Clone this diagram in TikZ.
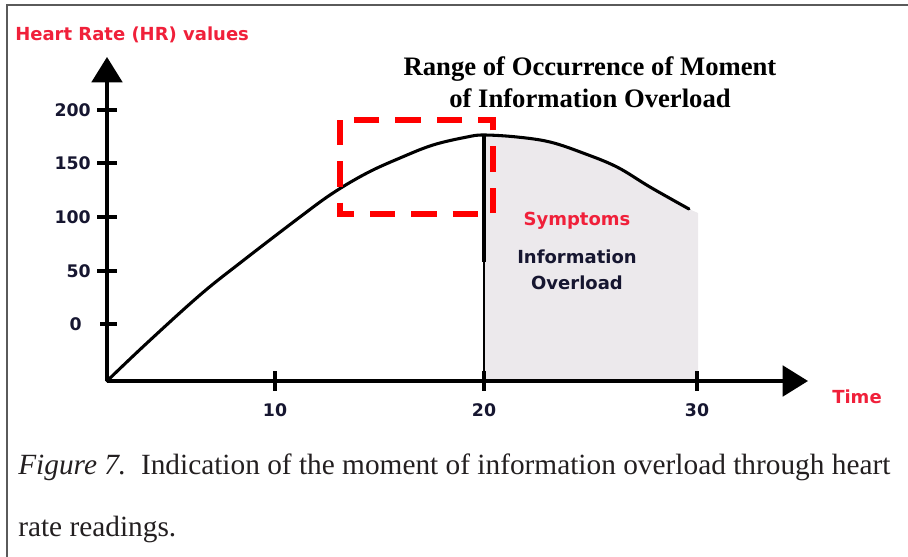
\documentclass[tikz,border=0pt]{standalone}
\usepackage{fontspec}
\setmainfont{Liberation Serif}
\newfontfamily\plotfont{DejaVu Sans}
\usetikzlibrary{arrows.meta,positioning}

\definecolor{hrred}{RGB}{240,32,58}
\definecolor{ticknavy}{RGB}{22,22,48}
\definecolor{overloadshade}{RGB}{236,233,236}
\definecolor{framegray}{RGB}{90,90,90}
\definecolor{captionink}{RGB}{35,31,32}

\tikzset{
  axis/.style={line width=2.3pt, -{Triangle[length=19pt,width=23pt]}},
  tickmark/.style={line width=3pt},
  ticklabel/.style={font=\plotfont\bfseries\fontsize{13}{15}\selectfont, text=ticknavy, inner sep=0pt},
  redlabel/.style={font=\plotfont\bfseries\fontsize{13.5}{16}\selectfont, text=hrred, inner sep=0pt},
  zonetext/.style={font=\plotfont\bfseries\fontsize{13.5}{19.5}\selectfont, text=ticknavy, inner sep=0pt, align=center},
  titletext/.style={font=\bfseries\fontsize{20}{24}\selectfont, inner sep=0pt},
  captiontext/.style={font=\fontsize{22}{26}\selectfont, text=captionink, inner sep=0pt},
  zone/.style={draw=red, line width=4.5pt, dash pattern=on 19pt off 12pt},
}

\begin{document}
\begin{tikzpicture}[x=0.75pt,y=-0.75pt]
  \useasboundingbox (0,0) rectangle (908,557);
  % frame of the figure
  \draw[framegray, line width=1.5pt] (7,557) -- (7,5) -- (908,5);

  \coordinate (origin) at (107,381);
  \coordinate (ytip) at (107,57);
  \coordinate (xtip) at (808,381);
  \coordinate (peak) at (484,134);
  \coordinate (bend) at (484,262);
  \coordinate (t20) at (484,381);

  % shaded area after the peak
  \begin{scope}
    \clip (484,0) rectangle (698,381);
    \fill[overloadshade] plot[smooth, tension=0.6] coordinates {
      (107,381) (147,343) (200,295) (240,263) (300,217) (333,193) (367,173)
      (400,158) (433,145) (467,137) (484,135) (517,137) (550,142) (583,153)
      (617,167) (650,187) (689,209)}
      -- (698,213) -- (698,381) -- (107,381) -- cycle;
  \end{scope}

  % heart rate curve
  \draw[line width=2.3pt, line cap=round] plot[smooth, tension=0.6] coordinates {
    (107,381) (147,343) (200,295) (240,263) (300,217) (333,193) (367,173)
    (400,158) (433,145) (467,137) (484,135) (517,137) (550,142) (583,153)
    (617,167) (650,187) (689,209)};

  \draw[line width=2.3pt] (peak) -- (bend);
  \draw[line width=1.8pt] (bend) -- (t20);

  % axes
  \draw[axis] (origin) -- (ytip);
  \draw[axis] (origin) -- (xtip);

  \foreach \val/\y in {200/110, 150/163, 100/217, 50/271} {
    \draw[tickmark] (97,\y) -- (117,\y);
    \node[ticklabel, anchor=east] (y\val) at (91,\y) {\val};
  }
  \draw[tickmark] (100,324) -- (117,324);
  \node[ticklabel, anchor=east] (y0) at (82,324) {0};

  \foreach \val/\x in {10/275, 20/484, 30/697} {
    \draw[tickmark] (\x,371) -- (\x,391);
    \node[ticklabel] (x\val) at (\x,410) {\val};
  }

  % range of occurrence
  \draw[zone] (340,120) rectangle (493,214);

  \node[redlabel, anchor=west] (hrlabel) at (15,35) {Heart Rate (HR) values};
  \node[redlabel] (timelabel) at (857,397) {Time};
  \node[redlabel] (symptoms) at (577,221) {Symptoms};
  \node[zonetext] (overload) [below=15pt of symptoms] {Information\\Overload};

  \node[titletext, anchor=base] (title1) at (590,75) {Range of Occurrence of Moment};
  \node[titletext, anchor=base] (title2) at (590,107) {of Information Overload};

  \node[captiontext, anchor=base west] (caption1) at (18,474)
    {\textit{Figure 7.}\ \ Indication of the moment of information overload through heart};
  \node[captiontext, anchor=base west] (caption2) at (18,536) {rate readings.};
\end{tikzpicture}
\end{document}
